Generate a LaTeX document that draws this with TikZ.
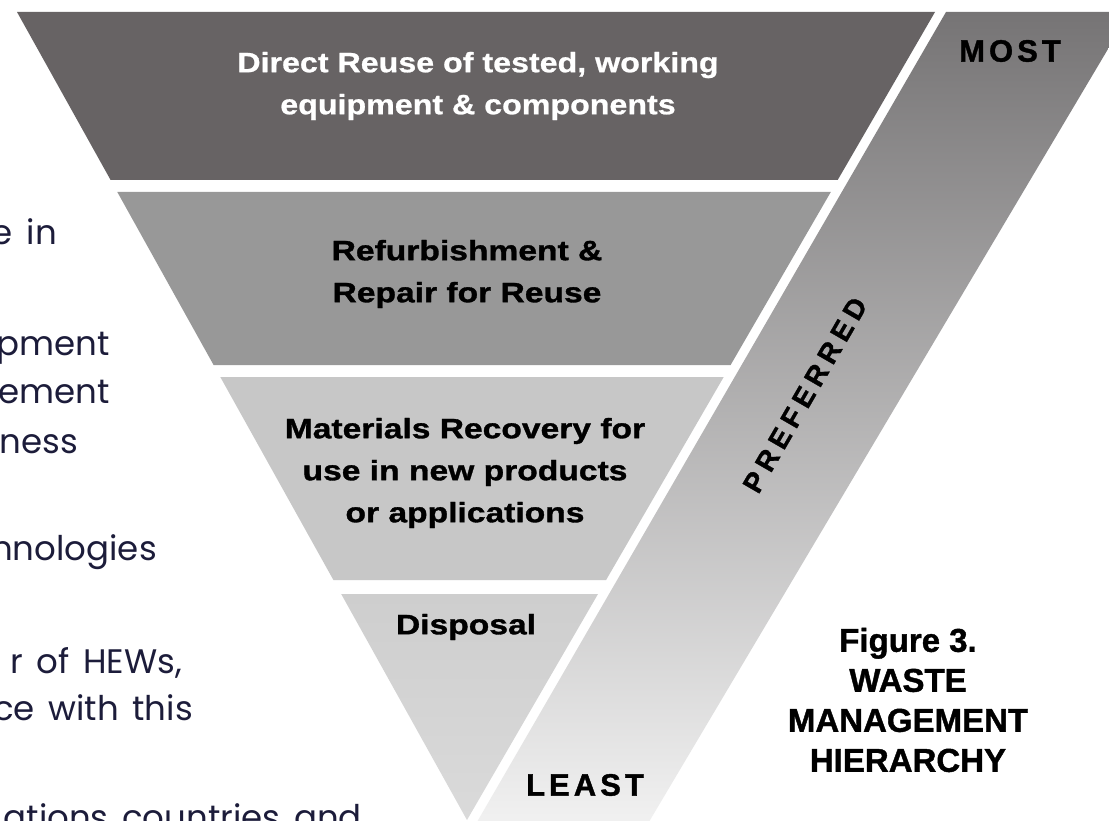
\documentclass[tikz,border=0pt]{standalone}
\usepackage{fontspec}
\setmainfont{Liberation Sans}
\newfontfamily\bandfont[FakeStretch=1.2,FakeBold=1.2]{Liberation Sans}
\newfontfamily\topfont[FakeStretch=1.15,FakeBold=0.8]{Liberation Sans}
\newfontfamily\capfont[FakeBold=1.2]{Liberation Sans}
\newfontfamily\endfont[LetterSpace=13,FakeBold=1.2]{Liberation Sans}
\newfontfamily\prefont[LetterSpace=21,FakeBold=1.2]{Liberation Sans}
\newfontfamily\bodyfont[WordSpace=1.5]{Poppins}
\definecolor{bandA}{RGB}{103,99,100}
\definecolor{bandB}{RGB}{152,152,152}
\definecolor{bandC}{RGB}{199,199,199}
\definecolor{bandDtop}{RGB}{206,206,206}
\definecolor{bandDbot}{RGB}{218,218,218}
\definecolor{arrtop}{RGB}{118,116,117}
\definecolor{arrbot}{RGB}{242,242,242}
\definecolor{bodyblue}{RGB}{28,28,58}
\tikzset{
  bandtext/.style={align=center, inner sep=0pt, font=\bandfont\bfseries\fontsize{28}{42}\selectfont},
  bodytext/.style={anchor=base east, inner sep=0pt, text=bodyblue, font=\bodyfont\fontsize{34}{40}\selectfont},
  endtext/.style={inner sep=0pt, font=\endfont\bfseries\fontsize{31}{31}\selectfont},
  captext/.style={align=center, inner sep=0pt, font=\capfont\bfseries\fontsize{33}{40}\selectfont},
}
\begin{document}
\begin{tikzpicture}[x=1pt,y=-1pt]
\useasboundingbox (0,0) rectangle (1109,821);
\clip (0,0) rectangle (1109,821);
\fill[white] (0,0) rectangle (1109,821);
% arrow band
\shade[top color=arrtop, bottom color=arrbot] (946,12) -- (1130,12) -- (1130-0.594*818,830) -- (946-0.579*818,830) -- cycle;
% bands
\fill[bandA] (17,12) -- (935,12) -- (837.7,180) -- (110.6,180) -- cycle;
\fill[bandB] (117.3,192) -- (830.8,192) -- (730.6,365) -- (213.6,365) -- cycle;
\fill[bandC] (220.3,377) -- (723.7,377) -- (606.1,580) -- (333.4,580) -- cycle;
\shade[top color=bandDtop, bottom color=bandDbot] (341.2,594) -- (598,594) -- (467,820) -- cycle;
% band texts
\node[bandtext, font=\topfont\bfseries\fontsize{28}{42}\selectfont, text=white] (reuse) at (478,86) {Direct Reuse of tested, working\\equipment \& components};
\node[bandtext] (refurb) at (467,274) {Refurbishment \&\\Repair for Reuse};
\node[bandtext] (recov) at (465,473) {Materials Recovery for\\use in new products\\or applications};
\node[bandtext] (disp) at (466,627) {Disposal};
% arrow labels
\node[endtext] (most) at (1010,51) {MOST};
\node[endtext] (least) at (585,785) {LEAST};
\node[inner sep=0pt, rotate=60, font=\prefont\bfseries\fontsize{28}{28}\selectfont] (pref) at (805,395) {PREFERRED};
% caption
\node[captext] (cap) at (908,700) {Figure 3.\\WASTE\\MANAGEMENT\\HIERARCHY};
% cut-off body text at the left
\node[bodytext] (l1) at (57,245) {e in};
\node[bodytext] (l2) at (110,355) {ipment};
\node[bodytext] (l3) at (110,403) {gement};
\node[bodytext] (l4) at (78,453) {iness};
\node[bodytext] (l5) at (157,560) {nnologies};
\node[bodytext] (l6) at (182,673) {r of HEWs,};
\node[bodytext] (l7) at (193,720) {ce with this};
\node[bodytext] (l8) at (362,829) {ations countries and};
\end{tikzpicture}
\end{document}
